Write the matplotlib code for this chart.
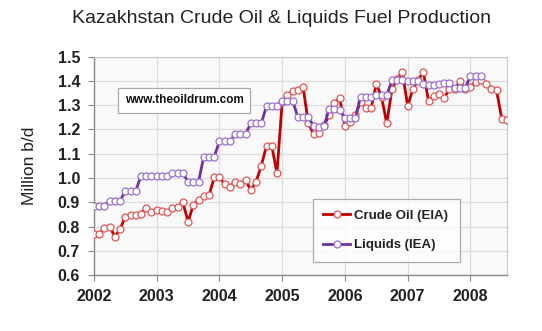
import matplotlib
matplotlib.use("Agg")
import matplotlib.pyplot as plt
import numpy as np

plt.rcParams['font.family'] = ['Liberation Sans', 'DejaVu Sans']

# Monthly production, million barrels per day, starting January 2002
crude_eia = [
    0.77, 0.77, 0.795, 0.80, 0.758, 0.79, 0.84, 0.846, 0.846, 0.853, 0.878, 0.861,   # 2002
    0.868, 0.864, 0.861, 0.875, 0.882, 0.90, 0.82, 0.889, 0.91, 0.924, 0.928, 1.003,  # 2003
    1.003, 0.975, 0.964, 0.985, 0.975, 0.99, 0.95, 0.985, 1.05, 1.133, 1.133, 1.02,   # 2004
    1.315, 1.342, 1.358, 1.362, 1.375, 1.226, 1.181, 1.184, 1.218, 1.258, 1.309, 1.33,  # 2005
    1.214, 1.23, 1.26, 1.315, 1.29, 1.287, 1.388, 1.335, 1.225, 1.367, 1.41, 1.435,  # 2006
    1.297, 1.366, 1.404, 1.437, 1.317, 1.338, 1.345, 1.331, 1.366, 1.366, 1.40, 1.366,  # 2007
    1.376, 1.396, 1.404, 1.386, 1.368, 1.361, 1.244, 1.24,  # 2008
]

liquids_iea = [
    0.886, 0.886, 0.886, 0.906, 0.906, 0.906, 0.948, 0.948, 0.948, 1.009, 1.009, 1.009,  # 2002
    1.007, 1.007, 1.007, 1.019, 1.019, 1.019, 0.985, 0.985, 0.985, 1.088, 1.088, 1.088,  # 2003
    1.151, 1.151, 1.151, 1.181, 1.181, 1.181, 1.226, 1.226, 1.226, 1.296, 1.296, 1.296,  # 2004
    1.319, 1.319, 1.319, 1.25, 1.25, 1.25, 1.214, 1.21, 1.214, 1.286, 1.286, 1.282,   # 2005
    1.247, 1.247, 1.247, 1.335, 1.335, 1.335, 1.341, 1.341, 1.341, 1.402, 1.402, 1.402,  # 2006
    1.398, 1.398, 1.398, 1.386, 1.385, 1.384, 1.388, 1.39, 1.39, 1.37, 1.37, 1.37,  # 2007
    1.42, 1.42, 1.42,  # 2008
]

year_labels = ['2002', '2003', '2004', '2005', '2006', '2007', '2008']
y_ticks = [0.6, 0.7, 0.8, 0.9, 1.0, 1.1, 1.2, 1.3, 1.4, 1.5]

t_crude = 2002 + np.arange(len(crude_eia)) / 12.0
t_liq = 2002 + np.arange(len(liquids_iea)) / 12.0

fig = plt.figure(figsize=(5.42, 3.31), dpi=100)
ax = fig.add_axes([0.1734, 0.169, 0.762, 0.6597])
ax.set_facecolor('#f9f9f9')

red = '#c00000'
purple = '#7030a0'

ax.plot(t_crude, crude_eia, color=red, lw=2.0, marker='o', ms=5.0,
        mfc='white', mec='#e05555', mew=0.9, label='Crude Oil (EIA)', zorder=3)
ax.plot(t_liq, liquids_iea, color=purple, lw=2.0, marker='o', ms=5.0,
        mfc='white', mec='#9a70d0', mew=0.9, label='Liquids (IEA)', zorder=4)

ax.set_xlim(2002, 2002 + 79 / 12.0)
ax.set_ylim(0.6, 1.5)
ax.set_xticks([int(y) for y in year_labels])
ax.set_xticklabels(year_labels, fontsize=11.5, fontweight='bold', color='#222222')
ax.set_yticks(y_ticks)
ax.set_yticklabels([f'{v:.1f}' for v in y_ticks], fontsize=11.5,
                   fontweight='bold', color='#222222')
ax.tick_params(axis='both', direction='out', length=4, color='#888888')
ax.tick_params(axis='x', pad=6)
ax.tick_params(axis='y', pad=6)

ax.grid(True, color='#dcdcdc', lw=0.9)
ax.set_axisbelow(True)
for side in ['top', 'right']:
    ax.spines[side].set_color('#c8c8c8')
for side in ['left', 'bottom']:
    ax.spines[side].set_color('#888888')
    ax.spines[side].set_linewidth(1.0)

ax.set_ylabel('Million b/d', fontsize=12.5, color='#222222', labelpad=15)

fig.text(0.52, 0.945, 'Kazakhstan Crude Oil & Liquids Fuel Production',
         ha='center', va='center', fontsize=14, color='#222222')

ax.text(0.075, 0.80, 'www.theoildrum.com', transform=ax.transAxes,
        fontsize=8.5, fontweight='bold', color='#111111', va='center', ha='left',
        bbox=dict(boxstyle='square,pad=0.55', fc='white', ec='#aaaaaa', lw=0.9))

leg = ax.legend(loc='lower left', bbox_to_anchor=(0.53, 0.06, 0.356, 0.27),
                mode='expand', frameon=True, fancybox=False,
                prop={'weight': 'bold', 'size': 9.5}, handlelength=2.0,
                handletextpad=0.3, labelspacing=1.3, borderaxespad=0,
                borderpad=0.8)
leg.get_frame().set_edgecolor('#999999')
leg.get_frame().set_linewidth(0.9)
for txt in leg.get_texts():
    txt.set_color('#222222')

fig.savefig('out.png', dpi=100, facecolor='white')
